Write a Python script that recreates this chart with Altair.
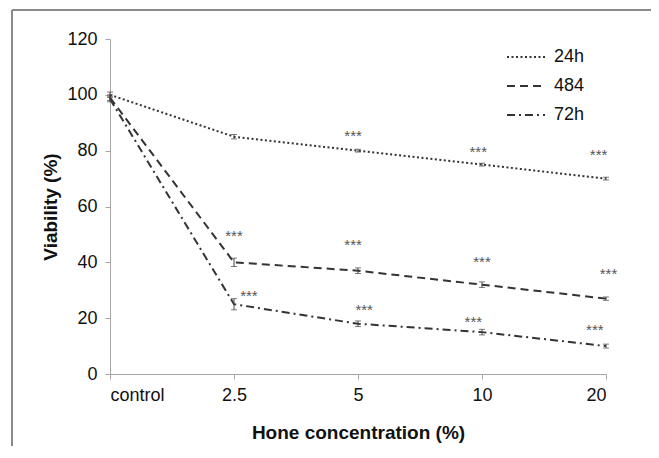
import altair as alt
import pandas as pd

# ---- data ----
concentrations = ["control", "2.5", "5", "10", "20"]
series = ["24h", "484", "72h"]
v24 = [100, 85, 80, 75, 70]
e24 = [1.0, 0.8, 0.5, 0.5, 0.5]
v48 = [99, 40, 37, 32, 27]
e48 = [1.0, 1.5, 1.0, 1.0, 0.6]
v72 = [98.5, 25, 18, 15, 10]
e72 = [1.0, 2.0, 1.0, 1.0, 0.7]

# significance marks ("***") : (x position index, y value)
star_x = [1.96, 2.97, 3.94, 1.0, 1.96, 3.0, 4.02, 1.12, 2.05, 2.93, 3.91]
star_y = [86.4, 80.6, 79.6, 50.5, 47.3, 41.2, 36.9, 29.0, 24.0, 19.7, 16.8]

rows = []
for name, vals, errs in [("24h", v24, e24), ("484", v48, e48), ("72h", v72, e72)]:
    for i, (v, e) in enumerate(zip(vals, errs)):
        rows.append({"series": name, "pos": i, "conc": concentrations[i],
                     "value": v, "lo": v - e, "hi": v + e})
df = pd.DataFrame(rows)
stars = pd.DataFrame({"x": star_x, "y": star_y, "t": ["***"] * len(star_x)})

label_expr = "[" + ",".join("'%s'" % c for c in concentrations) + "][datum.value]"

xscale = alt.Scale(domain=[0, 4], nice=False, zero=False)
yscale = alt.Scale(domain=[0, 120], nice=False)

x_enc = alt.X("pos:Q", scale=xscale,
              axis=alt.Axis(values=[0, 1, 2, 3, 4], labelExpr=label_expr,
                            title="Hone concentration (%)", grid=False,
                            titlePadding=19, labelPadding=7))
y_enc = alt.Y("value:Q", scale=yscale,
              axis=alt.Axis(values=[0, 20, 40, 60, 80, 100, 120],
                            title="Viability (%)", grid=False,
                            titlePadding=6, labelPadding=8))

dash_scale = alt.Scale(domain=series, range=[[2, 2.5], [8, 5], [8, 4, 2, 4]])

lines = alt.Chart(df).mark_line(color="#333333", strokeWidth=2).encode(
    x=x_enc,
    y=y_enc,
    strokeDash=alt.StrokeDash("series:N", scale=dash_scale, sort=series,
                              legend=alt.Legend(title=None, orient="none",
                                                legendX=396, legendY=-2,
                                                symbolType="stroke",
                                                symbolSize=1444,
                                                symbolStrokeWidth=2,
                                                symbolStrokeColor="#333333",
                                                labelFontSize=18,
                                                labelFont="Liberation Sans",
                                                labelColor="#111111",
                                                labelOffset=8,
                                                rowPadding=0)),
)

err_rule = alt.Chart(df).mark_rule(color="#444444", strokeWidth=1).encode(
    x="pos:Q", y="lo:Q", y2="hi:Q")
err_lo = alt.Chart(df).mark_tick(color="#444444", size=6, thickness=1,
                                 orient="horizontal").encode(x="pos:Q", y="lo:Q")
err_hi = alt.Chart(df).mark_tick(color="#444444", size=6, thickness=1,
                                 orient="horizontal").encode(x="pos:Q", y="hi:Q")

star_text = alt.Chart(stars).mark_text(fontSize=15, color="#555555", dy=3,
                                       font="Liberation Sans").encode(
    x="x:Q", y="y:Q", text="t:N")

frame_left = alt.Chart(df).mark_rule(color="#8a8a8a", strokeWidth=1.5).encode(
    x=alt.value(-98), y=alt.value(-29), y2=alt.value(500))
frame_top = alt.Chart(df).mark_rule(color="#8a8a8a", strokeWidth=1.5).encode(
    x=alt.value(-98), x2=alt.value(600), y=alt.value(-29))

chart = alt.layer(frame_left, frame_top, lines, err_rule, err_lo, err_hi, star_text).properties(
    width=496, height=335,
    autosize=alt.AutoSizeParams(type="none"),
    padding={"left": 102, "top": 31, "right": 45, "bottom": 72},
    background="white",
).configure_view(stroke=None).configure_axis(
    domainColor="#a6a6a6", tickColor="#a6a6a6", tickSize=5,
    labelFont="Liberation Sans", labelFontSize=18, labelColor="#111111",
    titleFont="Liberation Sans", titleFontSize=19, titleFontWeight="bold",
    titleColor="#111111",
)

chart.save("out.html", embed_options={"renderer": "svg", "actions": False})
